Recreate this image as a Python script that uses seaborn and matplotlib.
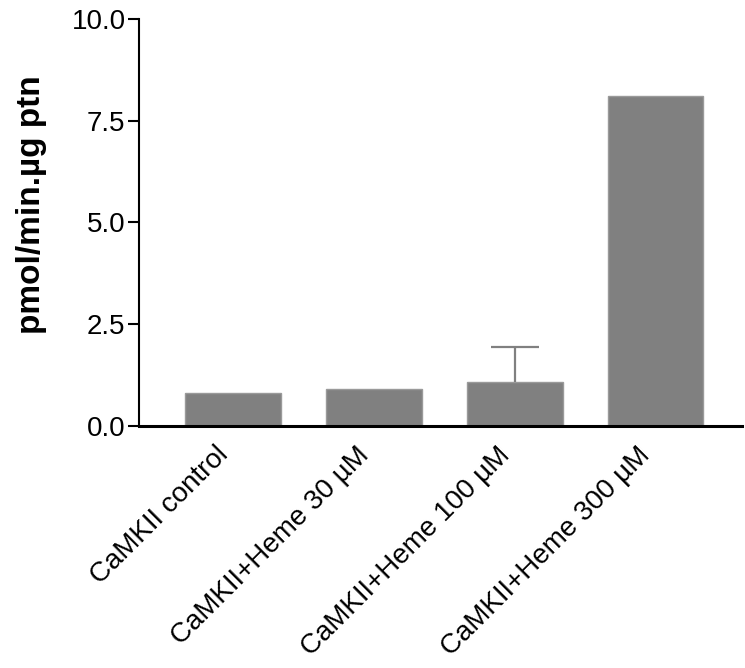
import seaborn as sns
import matplotlib.pyplot as plt
import matplotlib.transforms as mtransforms
import numpy as np

# data
groups = ["CaMKII control", "CaMKII+Heme 30 \u00b5M", "CaMKII+Heme 100 \u00b5M", "CaMKII+Heme 300 \u00b5M"]
activity = [0.82, 0.90, 1.09, 8.10]
activity_err = [0.0, 0.0, 0.84, 0.0]
yticks = [0.0, 2.5, 5.0, 7.5, 10.0]

sns.set_style("ticks", {"axes.edgecolor": "black", "text.color": "black",
                        "axes.labelcolor": "black", "xtick.color": "black",
                        "ytick.color": "black"})
plt.rcParams["font.family"] = ["Liberation Sans", "DejaVu Sans"]

fig = plt.figure(figsize=(7.45, 6.68), dpi=100)
ax = fig.add_axes([0.1872, 0.3623, 0.8088, 0.6093])

sns.barplot(x=groups, y=activity, color="#808080", saturation=1, width=0.68,
            edgecolor="#9a9a9a", linewidth=1, ax=ax)

# upper error bar only, drawn where there is an error
for patch, err in zip(ax.patches, activity_err):
    if err > 0:
        xc = patch.get_x() + patch.get_width() / 2
        _, caps, _ = ax.errorbar([xc], [patch.get_height()], yerr=[[0], [err]], fmt="none",
                                 ecolor="#808080", elinewidth=1.6, capsize=17, capthick=1.6)
        caps[0].set_visible(False)  # no cap at the bar top

ax.set_ylim(0, 10)
ax.set_xlim(-0.667, 3.615)
ax.set_yticks(yticks)
ax.set_yticklabels([f"{t:.1f}" for t in yticks], fontsize=20)
ax.set_ylabel("pmol/min.\u00b5g ptn", fontsize=24, fontweight="bold")
ax.yaxis.set_label_coords(-0.1535, 0.543)

sns.despine(ax=ax)
ax.spines["left"].set_linewidth(1.5)
ax.spines["bottom"].set_linewidth(2.2)
ax.tick_params(axis="y", length=8, width=1.5, pad=2, colors="black")
ax.tick_params(axis="x", length=0, pad=0, colors="black")

ax.set_xticks(range(len(groups)))
ax.set_xticklabels(groups, fontsize=20, rotation=45, ha="right",
                   va="baseline", rotation_mode="anchor")
shift = mtransforms.ScaledTranslation(-0.04, -0.30, fig.dpi_scale_trans)
for lab in ax.get_xticklabels():
    lab.set_transform(lab.get_transform() + shift)

fig.savefig("out.png", dpi=100)
